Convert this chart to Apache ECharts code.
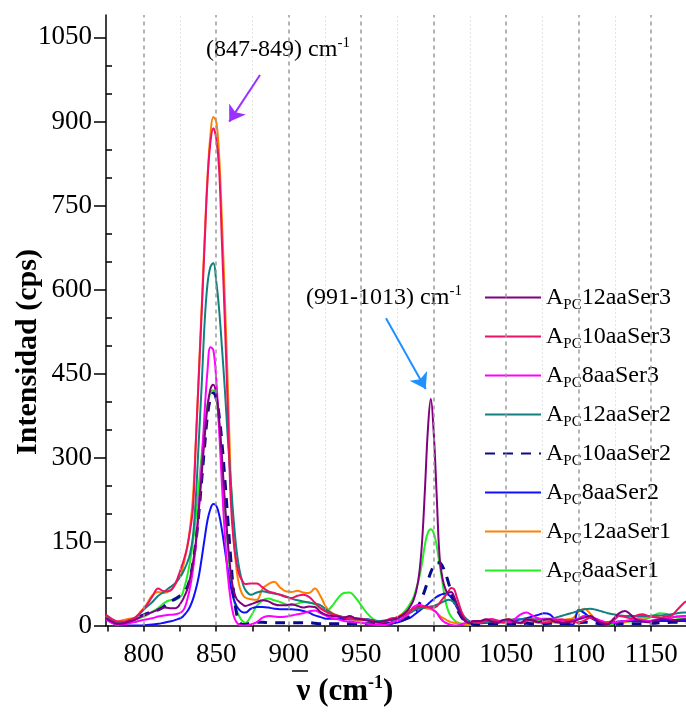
<!DOCTYPE html>
<html>
<head>
<meta charset="utf-8">
<script src="https://cdn.jsdelivr.net/npm/echarts@6/dist/echarts.min.js"></script>
<style>
  html, body { margin: 0; padding: 0; background: #fff; }
  #chart { width: 686px; height: 714px; }
</style>
</head>
<body>
<div id="chart"></div>
<script>
// Wavenumber grid (cm-1), finer around the two bands
const wavenumbers = [
  774,778,782,786,790,794,798,802,806,810,814,818,822,826,
  828,830,832,834,836,838,840,842,844,846,848,850,852,854,856,858,860,862,864,866,868,870,
  874,878,882,886,890,894,898,902,906,910,914,918,922,926,930,934,938,942,946,950,954,958,962,966,970,974,978,982,
  984,986,988,990,992,994,996,998,1000,1002,1004,1006,1008,1010,1012,1014,1016,1018,1020,
  1024,1028,1032,1036,1040,1044,1048,1052,1056,1060,1064,1068,1072,1076,1080,1084,1088,1092,1096,1100,
  1104,1108,1112,1116,1120,1124,1128,1132,1136,1140,1144,1148,1152,1156,1160,1164,1168,1172,1174
];

// Intensities (cps)
const apc12aaSer3 = [
  13,7,3,4,7,10,16,20,24,28,32,31,31,42,
  52,64,85,112,150,205,270,335,390,422,430,415,370,300,220,150,95,62,48,42,38,35,
  38,42,45,43,38,36,36,38,35,32,34,33,24,19,17,16,14,17,13,11,9,7,6,8,10,12,18,27,
  35,45,62,92,150,245,350,405,345,236,125,85,66,58,60,52,38,24,14,
  5,8,8,11,7,5,10,11,6,5,11,9,6,10,11,6,5,6,7,11,14,17,10,4,2,12,22,26,19,10,7,6,8,11,11,10,10,11,11
];
const apc10aaSer3 = [
  19,12,7,7,10,14,24,36,52,66,61,62,76,104,
  120,140,170,210,330,445,560,680,795,862,888,870,815,680,540,385,225,150,112,90,80,74,
  75,75,68,61,58,55,51,49,53,55,51,41,31,24,20,17,14,11,12,12,10,8,5,7,12,14,17,22,
  26,30,32,33,33,33,33,32,32,34,40,47,53,60,67,65,50,34,20,
  5,7,4,9,11,7,5,8,7,4,8,11,6,5,6,9,11,9,7,5,9,14,10,5,6,9,17,15,13,18,20,17,15,14,16,18,28,39,43
];
const apc8aaSer3 = [
  11,5,1,2,4,6,9,11,13,16,18,19,20,24,
  30,46,68,100,145,210,290,380,455,497,492,440,350,250,160,90,45,18,6,1,0,0,
  2,6,14,17,16,15,16,18,20,22,25,27,22,17,13,11,8,7,6,5,3,2,1,1,4,8,12,20,
  26,33,36,37,36,34,33,31,27,23,15,9,5,3,1,0,0,1,3,
  6,8,8,10,11,9,6,6,12,20,23,18,13,11,11,11,10,9,10,12,17,15,12,8,5,5,7,8,10,11,10,8,10,11,13,14,16,17,17
];
const apc12aaSer2 = [
  15,10,6,6,9,13,23,33,42,53,60,68,76,90,
  100,112,128,160,230,330,430,540,610,640,647,615,565,495,420,335,260,190,135,100,78,64,
  55,59,61,59,57,55,52,48,45,43,41,39,36,28,21,17,15,14,13,12,11,9,8,9,10,11,16,20,
  23,26,29,30,31,32,33,34,35,37,39,42,44,46,45,41,35,27,19,
  9,5,5,6,7,8,9,10,11,11,11,11,11,12,12,14,17,20,23,26,29,30,28,25,22,20,18,17,17,17,17,17,18,18,19,20,22,23,23
];
const apc10aaSer2 = [
  12,8,4,5,8,12,17,21,25,28,34,42,48,55,
  60,68,85,112,150,200,260,320,375,405,415,405,375,325,260,190,120,60,22,6,2,2,
  5,6,6,5,5,5,5,5,5,5,5,4,3,3,3,3,3,3,3,3,3,3,3,3,4,6,9,14,
  17,22,28,38,50,64,80,95,106,112,112,106,94,78,60,44,30,20,12,
  5,2,2,3,3,3,4,3,3,3,4,3,3,3,4,3,3,3,4,5,6,5,4,3,3,3,3,3,3,3,3,4,4,5,5,6,6,6,6
];
const apc8aaSer2 = [
  13,5,1,0,0,0,0,1,2,3,5,7,10,14,
  19,25,34,47,65,88,120,155,188,208,217,214,198,170,135,100,70,48,35,28,24,23,
  30,33,33,32,30,29,29,29,28,26,23,18,15,12,12,12,11,11,11,11,11,9,6,3,3,5,8,12,
  14,18,22,26,30,34,38,43,47,51,54,56,57,55,50,42,32,22,12,
  5,4,4,5,6,7,7,8,9,11,13,16,19,22,20,10,5,3,2,28,22,14,9,6,5,6,7,8,8,8,7,7,7,8,8,8,8,8,8
];
const apc12aaSer1 = [
  17,10,7,10,12,14,25,38,54,60,58,62,74,95,
  115,140,175,230,330,450,570,690,800,875,908,900,840,720,580,430,265,160,100,70,56,50,
  47,46,66,74,78,68,61,60,62,59,58,66,52,32,22,18,14,12,10,9,10,6,4,6,10,14,20,26,
  28,30,31,32,33,31,30,29,27,23,18,14,11,8,6,5,4,3,3,
  2,3,8,5,7,4,9,11,6,5,8,7,5,6,8,7,9,11,13,25,30,21,10,3,4,5,3,6,10,13,14,15,17,14,12,14,16,17,17
];
const apc8aaSer1 = [
  12,6,3,4,6,10,14,18,25,31,40,45,46,53,
  68,88,115,150,195,250,305,355,395,415,420,405,360,290,210,140,85,48,28,16,8,5,
  17,35,45,48,45,42,38,36,39,42,41,38,30,26,35,49,58,59,50,36,22,12,6,2,5,13,20,32,
  40,50,66,85,112,145,166,172,165,143,110,78,45,26,16,10,6,4,2,
  1,3,6,8,7,6,7,8,6,5,6,8,9,8,6,5,6,8,9,13,17,15,8,4,2,3,5,6,7,8,10,13,18,22,21,17,14,13,13
];

// Axis ticks
const xTickLabels = [800, 850, 900, 950, 1000, 1050, 1100, 1150];
const xMinorTicks = [775, 825, 875, 925, 975, 1025, 1075, 1125];
const yTickLabels = [0, 150, 300, 450, 600, 750, 900, 1050];
const yMinorTicks = [50, 100, 200, 250, 350, 400, 500, 550, 650, 700, 800, 850, 950, 1000];

const seriesDefs = [
  { name: 'APC12aaSer3', values: apc12aaSer3, color: '#800080' },
  { name: 'APC10aaSer3', values: apc10aaSer3, color: '#ee1166' },
  { name: 'APC8aaSer3',  values: apc8aaSer3,  color: '#ff00ff' },
  { name: 'APC12aaSer2', values: apc12aaSer2, color: '#118080' },
  { name: 'APC10aaSer2', values: apc10aaSer2, color: '#0a0a8c', dashed: true },
  { name: 'APC8aaSer2',  values: apc8aaSer2,  color: '#1010ff' },
  { name: 'APC12aaSer1', values: apc12aaSer1, color: '#ff8000' },
  { name: 'APC8aaSer1',  values: apc8aaSer1,  color: '#22ee22' }
];

const serif = 'Liberation Serif, Times New Roman, serif';

const gridLines = {
  silent: true,
  symbol: 'none',
  label: { show: false },
  emphasis: { disabled: true },
  data: [
    ...xTickLabels.map(v => ({ xAxis: v, lineStyle: { color: '#9a9a9a', width: 1.5, type: [4, 4] } })),
    ...xMinorTicks.filter(v => v > 780).map(v => ({ xAxis: v, lineStyle: { color: '#c8c8c8', width: 1, type: [1, 3] } }))
  ]
};

const arrows = {
  silent: true,
  symbol: ['none', 'arrow'],
  symbolSize: 15,
  label: { show: false },
  emphasis: { disabled: true },
  data: [
    [{ coord: [880.2, 983], lineStyle: { color: '#9b30ff', width: 2, type: 'solid' } }, { coord: [859.0, 899.6] }],
    [{ coord: [967.1, 548.6], lineStyle: { color: '#1e90ff', width: 2, type: 'solid' } }, { coord: [994.5, 422.3] }]
  ]
};

// Draw in reverse legend order so the first entries sit on top
const series = seriesDefs.slice().reverse().map((s, i, arr) => ({
  name: s.name,
  type: 'line',
  smooth: 0.4,
  showSymbol: false,
  symbol: 'none',
  clip: true,
  data: wavenumbers.map((x, k) => [x, s.values[k]]),
  lineStyle: s.dashed ? { color: s.color, width: 3, type: [10, 8] } : { color: s.color, width: 2 },
  itemStyle: { color: s.color },
  emphasis: { disabled: true },
  markLine: i === 0 ? gridLines : (i === arr.length - 1 ? arrows : undefined)
}));

const chart = echarts.init(document.getElementById('chart'), null, { renderer: 'canvas' });

chart.setOption({
  animation: false,
  backgroundColor: '#ffffff',
  grid: { left: 106, right: 0, top: 15, bottom: 88.5, containLabel: false, outerBoundsMode: 'none' },
  xAxis: {
    type: 'value',
    min: 774,
    max: 1174,
    axisLine: { show: true, onZero: false, lineStyle: { color: '#000', width: 1.5 } },
    axisTick: { show: true, inside: false, length: 6, customValues: xTickLabels.concat(xMinorTicks).sort((a, b) => a - b), lineStyle: { color: '#000', width: 1.5 } },
    axisLabel: { customValues: xTickLabels, formatter: v => String(v), color: '#000', fontFamily: serif, fontSize: 27, margin: 16 },
    splitLine: { show: false }
  },
  yAxis: [
    {
      type: 'value',
      min: 0,
      max: 1090,
      axisLine: { show: true, lineStyle: { color: '#000', width: 1.5 } },
      axisTick: { show: true, inside: false, length: 12, customValues: yTickLabels, lineStyle: { color: '#000', width: 1.5 } },
      axisLabel: { customValues: yTickLabels, formatter: v => String(v), color: '#000', fontFamily: serif, fontSize: 27, margin: 14 },
      splitLine: { show: false }
    },
    {
      type: 'value',
      min: 0,
      max: 1090,
      position: 'left',
      axisLine: { show: false },
      axisTick: { show: true, inside: true, length: 6, customValues: yMinorTicks, lineStyle: { color: '#000', width: 1.5 } },
      axisLabel: { show: false },
      splitLine: { show: false }
    }
  ],
  legend: {
    orient: 'vertical',
    left: 478,
    top: 276,
    width: 208,
    padding: [6, 8, 6, 6],
    backgroundColor: '#ffffff',
    itemWidth: 56,
    itemHeight: 14,
    itemGap: 8,
    itemStyle: { opacity: 0 },
    data: seriesDefs.map(s => s.name),
    formatter: name => '{a|A}{s|PC}{a|' + name.slice(3) + '}',
    textStyle: {
      color: '#000',
      rich: {
        a: { fontFamily: serif, fontSize: 24, lineHeight: 30, color: '#000' },
        s: { fontFamily: serif, fontSize: 15, lineHeight: 14, padding: [16, 0, 0, 0], color: '#000' }
      }
    },
    selectedMode: false
  },
  graphic: [
    {
      type: 'text',
      x: 28, y: 352,
      rotation: Math.PI / 2,
      style: {
        text: 'Intensidad (cps)',
        align: 'center', verticalAlign: 'middle',
        font: 'bold 30px ' + serif,
        fill: '#000'
      }
    },
    {
      type: 'text',
      x: 278, y: 50,
      style: {
        text: '{t|(847-849) cm}{u|-1}',
        align: 'center', verticalAlign: 'middle',
        rich: {
          t: { fontFamily: serif, fontSize: 24, lineHeight: 28, fill: '#000' },
          u: { fontFamily: serif, fontSize: 15, lineHeight: 14, padding: [0, 0, 14, 0], fill: '#000' }
        }
      }
    },
    {
      type: 'text',
      x: 384, y: 298,
      style: {
        text: '{t|(991-1013) cm}{u|-1}',
        align: 'center', verticalAlign: 'middle',
        rich: {
          t: { fontFamily: serif, fontSize: 24, lineHeight: 28, fill: '#000' },
          u: { fontFamily: serif, fontSize: 15, lineHeight: 14, padding: [0, 0, 14, 0], fill: '#000' }
        }
      }
    },
    {
      type: 'text',
      x: 345, y: 692,
      style: {
        text: '{t|ν (cm}{u|-1}{t|)}',
        align: 'center', verticalAlign: 'middle',
        rich: {
          t: { fontFamily: serif, fontWeight: 'bold', fontSize: 31, lineHeight: 34, fill: '#000' },
          u: { fontFamily: serif, fontWeight: 'bold', fontSize: 18, lineHeight: 16, padding: [0, 0, 18, 0], fill: '#000' }
        }
      }
    },
    {
      type: 'line',
      shape: { x1: 292, y1: 671, x2: 308, y2: 671 },
      style: { stroke: '#000', lineWidth: 1.5 }
    }
  ],
  series: series
});
</script>
</body>
</html>
